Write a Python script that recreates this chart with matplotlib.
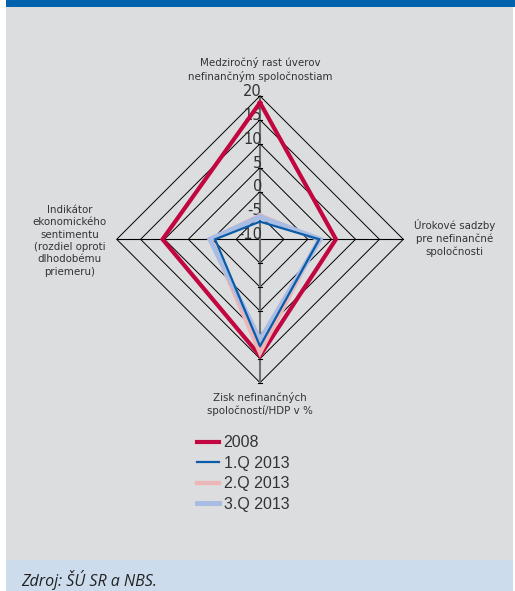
import numpy as np
import matplotlib.pyplot as plt
from matplotlib.patches import Rectangle

# axis names (clockwise from top)
axis_labels = [
    "Medziročný rast úverov\nnefinančným spoločnostiam",
    "Úrokové sadzby\npre nefinančné\nspoločnosti",
    "Zisk nefinančných\nspoločností/HDP v %",
    "Indikátor\nekonomického\nsentimentu\n(rozdiel oproti\ndlhodobému\npriemeru)",
]
ticks = [-10, -5, 0, 5, 10, 15, 20]

series_names = ["2008", "1.Q 2013", "2.Q 2013", "3.Q 2013"]
v_2008 = [18.6, 5.9, 14.4, 10.4]
v_q1 = [-6.3, 2.4, 12.4, -0.6]
v_q2 = [-5.0, 2.3, 13.8, 0.3]
v_q3 = [-5.3, 2.6, 11.1, 0.5]

colors = {"2008": "#C2063F", "1.Q 2013": "#0A5CA8",
          "2.Q 2013": "#EDB5B6", "3.Q 2013": "#A9BCE3"}
widths = {"2008": 3.0, "1.Q 2013": 1.6, "2.Q 2013": 3.0, "3.Q 2013": 3.6}

RMIN, RMAX = ticks[0], ticks[-1]
angles = np.array([0, 90, 180, 270]) * np.pi / 180


def to_xy(values):
    r = np.asarray(values, dtype=float) - RMIN
    x = r * np.sin(angles)
    y = r * np.cos(angles)
    return np.append(x, x[0]), np.append(y, y[0])


W, H = 515, 591
fig = plt.figure(figsize=(W / 100, H / 100), dpi=100)
fig.patch.set_facecolor("white")

# background panels
for (x0, y0, w, h, c) in [(6, 31, 507, 553, "#DCDDDF"),
                          (6, 584, 509, 7, "#0062AC"),
                          (6, 0, 507, 31, "#CCDCEC")]:
    fig.patches.append(Rectangle((x0 / W, y0 / H), w / W, h / H, transform=fig.transFigure,
                                 facecolor=c, edgecolor="none", zorder=-5))

# chart axes: centre at (260, 239.3) px, 30 units = 143.3 px
cx, cy = 260, 239.3
ppu = 143.3 / (RMAX - RMIN)
half = 160
L = half / ppu
ax = fig.add_axes([(cx - half) / W, (H - cy - half) / H, 2 * half / W, 2 * half / H])
ax.set_xlim(-L, L)
ax.set_ylim(-L, L)
ax.axis("off")
ax.set_zorder(2)

narrow = ["Liberation Sans Narrow", "DejaVu Sans"]

# diamond rings
for t in ticks[1:]:
    gx, gy = to_xy([t] * 4)
    ax.plot(gx, gy, color="black", lw=0.7, zorder=1)

R = RMAX - RMIN
ax.plot([-R, R], [0, 0], color="black", lw=0.8, zorder=1)
ax.plot([0, 0], [-R, R], color="#707070", lw=1.5, zorder=1.5)
for t in ticks[1:]:
    for s in (1, -1):
        ax.plot([-0.35, 0.35], [s * (t - RMIN)] * 2, color="black", lw=0.8, zorder=1.6)

# tick labels on the upper axis
for t in ticks:
    ax.text(0.4, t - RMIN - 0.6, str(t), ha="right", va="bottom",
            fontsize=10.5, family=narrow, color="#333333", zorder=2)

# data series
series = [("2008", v_2008), ("2.Q 2013", v_q2), ("3.Q 2013", v_q3), ("1.Q 2013", v_q1)]
handles = {}
for name, vals in series:
    x, y = to_xy(vals)
    handles[name], = ax.plot(x, y, color=colors[name], lw=widths[name],
                             solid_joinstyle="miter", zorder=3)

# axis labels
lab_kw = dict(fontsize=7.4, family=narrow, color="#333333", linespacing=1.3)
ax.text(0, R + 3.0, axis_labels[0], ha="center", va="bottom", **lab_kw)
ax.text(R + 2.2, 0.3, axis_labels[1], ha="left", va="center", multialignment="center", **lab_kw)
ax.text(0, -R - 2.0, axis_labels[2], ha="center", va="top", **lab_kw)
ax.text(-R - 9.8, -0.3, axis_labels[3], ha="center", va="center", multialignment="center", **lab_kw)

# legend
fig.legend([handles[n] for n in series_names], series_names,
           loc="upper left", bbox_to_anchor=(183 / W, 1 - 421 / H),
           frameon=False, handlelength=1.35, handletextpad=0.3,
           labelspacing=0.34, labelcolor="#333333",
           prop={"family": ["Liberation Sans", "DejaVu Sans"], "size": 11.5})

fig.text(21 / W, 1 - 580 / H, "Zdroj: ŠÚ SR a NBS.", ha="left", va="center",
         fontsize=11.5, style="italic", family=["Open Sans", "DejaVu Sans"], color="#222222")

fig.savefig("out.png", dpi=100, facecolor=fig.get_facecolor())
